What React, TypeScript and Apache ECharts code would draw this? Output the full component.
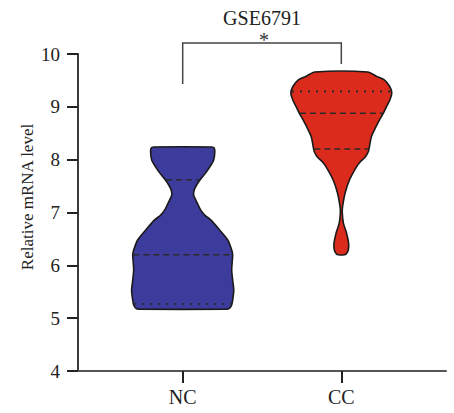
import React, { useEffect, useRef } from 'react';
import * as echarts from 'echarts';

const chartTitle = 'GSE6791';
const yAxisTitle = 'Relative mRNA level';
const categories = ['NC', 'CC'];
const categoryPositions = [1, 2];
const yMin = 4;
const yMax = 10;
const yInterval = 1;

// Violin outlines: level (mRNA value) and half width (in x-axis units), top to bottom
const ncLevels = [8.24, 8.22, 8.13, 7.99, 7.86, 7.75, 7.62, 7.52, 7.43, 7.33, 7.24, 7.14, 7.05, 6.95, 6.86, 6.67, 6.48, 6.29, 6.2, 6.06, 5.91, 5.72, 5.53, 5.34, 5.25, 5.19, 5.17];
const ncHalfWidths = [0.183, 0.199, 0.202, 0.195, 0.17, 0.145, 0.11, 0.088, 0.073, 0.069, 0.082, 0.098, 0.113, 0.139, 0.177, 0.233, 0.284, 0.309, 0.315, 0.312, 0.309, 0.315, 0.322, 0.315, 0.309, 0.296, 0.277];
const ccLevels = [9.66, 9.58, 9.51, 9.38, 9.26, 9.13, 9.0, 8.88, 8.75, 8.62, 8.43, 8.24, 8.15, 8.05, 7.96, 7.86, 7.62, 7.37, 7.11, 7.0, 6.8, 6.61, 6.42, 6.29, 6.22, 6.2];
const ccHalfWidths = [0.167, 0.221, 0.271, 0.306, 0.318, 0.306, 0.284, 0.265, 0.24, 0.218, 0.189, 0.177, 0.17, 0.151, 0.12, 0.095, 0.052, 0.024, 0.008, 0.006, 0.013, 0.033, 0.046, 0.044, 0.032, 0.019];

// Quartile lines: Q1, median, Q3
const ncQuartiles = [5.27, 6.2, 7.62];
const ccQuartiles = [8.2, 8.88, 9.29];
const ncQuartileKinds = ['dotted', 'dashed', 'dashed'];
const ccQuartileKinds = ['dashed', 'dashed', 'dotted'];

// Significance bracket (data levels): left foot, right foot, top
const bracketFeet = [9.43, 9.81];
const bracketTop = 10.21;
const significanceLabel = '*';

const violinColors = ['#3d3b9c', '#db2b1c'];
const FONT = '"Liberation Serif", "Times New Roman", serif';

function interp(levels: number[], widths: number[], v: number): number {
  for (let k = 0; k < levels.length - 1; k++) {
    const a = levels[k];
    const b = levels[k + 1];
    if ((v <= a && v >= b) || (v >= a && v <= b)) {
      const t = a === b ? 0 : (v - a) / (b - a);
      return widths[k] + t * (widths[k + 1] - widths[k]);
    }
  }
  return widths[widths.length - 1];
}

export default function App() {
  const ref = useRef<HTMLDivElement>(null);
  useEffect(() => {
    if (!ref.current) return;
    const chart = echarts.init(ref.current, null, { renderer: 'svg' });
    const violinLevels = [ncLevels, ccLevels];
    const violinWidths = [ncHalfWidths, ccHalfWidths];
    const quartiles = [ncQuartiles, ccQuartiles];
    const quartileKinds = [ncQuartileKinds, ccQuartileKinds];

    const option: any = {
      animation: false,
      grid: { left: 78, top: 54, width: 368, height: 317, containLabel: false },
      xAxis: {
        type: 'value',
        min: 0.34,
        max: 2.66,
        splitLine: { show: false },
        axisLine: { show: true, lineStyle: { color: '#555', width: 2 } },
        axisTick: { show: true, customValues: categoryPositions, length: 12, lineStyle: { color: '#222', width: 2 } },
        axisLabel: {
          show: true,
          customValues: categoryPositions,
          margin: 16,
          fontSize: 20,
          fontFamily: FONT,
          color: '#222',
          formatter: (v: number) => categories[categoryPositions.indexOf(Math.round(v))] ?? '',
        },
      },
      yAxis: {
        type: 'value',
        min: yMin,
        max: yMax,
        interval: yInterval,
        splitLine: { show: false },
        axisLine: { show: true, lineStyle: { color: '#3a3a3a', width: 2 } },
        axisTick: { show: true, length: 11, lineStyle: { color: '#222', width: 2 } },
        axisLabel: { margin: 18, fontSize: 19, fontFamily: FONT, color: '#222' },
      },
      graphic: [
        {
          type: 'text',
          x: 262,
          y: 18,
          style: { text: chartTitle, fontSize: 20, fontFamily: FONT, fill: '#222', textAlign: 'center', textVerticalAlign: 'middle' },
        },
        {
          type: 'text',
          x: 27,
          y: 197,
          rotation: Math.PI / 2,
          style: { text: yAxisTitle, fontSize: 17, fontFamily: FONT, fill: '#222', textAlign: 'center', textVerticalAlign: 'middle' },
        },
      ],
      series: [
        {
          type: 'custom',
          data: categoryPositions.map((p) => [p]),
          renderItem: (params: any, api: any) => {
            const i = params.dataIndex;
            const pos = api.value(0);
            const levels = violinLevels[i];
            const widths = violinWidths[i];
            const right = levels.map((v, k) => api.coord([pos + widths[k], v]));
            const left = levels.map((v, k) => api.coord([pos - widths[k], v])).reverse();
            const children: any[] = [
              {
                type: 'polygon',
                shape: { points: [...right, ...left], smooth: 0.25 },
                style: { fill: violinColors[i], stroke: '#1a1a1a', lineWidth: 1.6 },
              },
            ];
            quartiles[i].forEach((q, k) => {
              const w = interp(levels, widths, q) - 0.004;
              const p1 = api.coord([pos - w, q]);
              const p2 = api.coord([pos + w, q]);
              const dotted = quartileKinds[i][k] === 'dotted';
              children.push({
                type: 'line',
                shape: { x1: p1[0], y1: p1[1], x2: p2[0], y2: p2[1] },
                style: { stroke: '#2a2a2a', lineWidth: dotted ? 1.8 : 1.5, lineDash: dotted ? [2, 6] : [6, 4] },
              });
            });
            return { type: 'group', children };
          },
        },
        {
          type: 'custom',
          clip: false,
          data: [[categoryPositions[0], categoryPositions[1]]],
          renderItem: (params: any, api: any) => {
            const a = api.value(0);
            const b = api.value(1);
            const pts = [
              api.coord([a, bracketFeet[0]]),
              api.coord([a, bracketTop]),
              api.coord([b, bracketTop]),
              api.coord([b, bracketFeet[1]]),
            ];
            const mid = api.coord([(a + b) / 2, bracketTop]);
            return {
              type: 'group',
              children: [
                { type: 'polyline', shape: { points: pts }, style: { stroke: '#444', lineWidth: 1.5, fill: 'none' } },
                {
                  type: 'text',
                  x: mid[0] + 2,
                  y: mid[1] - 13,
                  style: { text: significanceLabel, fontSize: 20, fontFamily: FONT, fill: '#333', textAlign: 'center', textVerticalAlign: 'top' },
                },
              ],
            };
          },
        },
      ],
    };
    chart.setOption(option);
    return () => chart.dispose();
  }, []);
  return <div ref={ref} style={{ position: 'absolute', left: 0, top: 0, width: 454, height: 413 }} />;
}
